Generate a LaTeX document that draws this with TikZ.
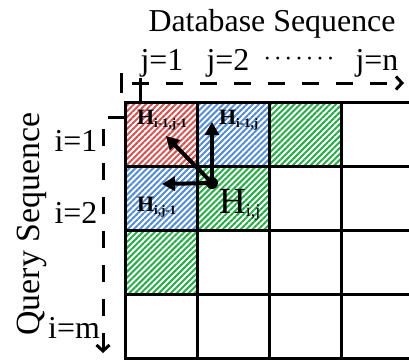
\documentclass[tikz,border=0pt]{standalone}
\usepackage{fontspec}
\setmainfont{Liberation Serif}
\usetikzlibrary{arrows.meta,patterns.meta}
\definecolor{hred}{RGB}{212,84,84}
\definecolor{hblue}{RGB}{84,140,212}
\definecolor{hgreen}{RGB}{40,172,72}
\newcommand\dotrow{·\kern2.6bp·\kern2.6bp·\kern2.6bp·\kern2.6bp·\kern2.6bp·\kern2.6bp·}
\tikzset{
  gridline/.style={line width=3bp,line cap=rect},
  hatch/.style={pattern={Lines[angle=45,distance=4.2bp,line width=2bp]},pattern color=#1},
  biglabel/.style={inner sep=0,font=\fontsize{32}{32}\selectfont},
  cellbold/.style={inner sep=0,anchor=base west,font=\fontsize{22}{22}\selectfont\bfseries},
  dashline/.style={line width=3bp,dash pattern=on 17bp off 17bp},
  thickarrow/.style={line width=4bp,-{Triangle[length=13bp,width=14bp]}},
}
\begin{document}
\begin{tikzpicture}[x=1bp,y=-1bp]
\useasboundingbox (0,0) rectangle (409,363);
% hatched cells
\fill[hatch=hred]   (125,102) rectangle (197,166);
\fill[hatch=hblue]  (197,102) rectangle (269,166);
\fill[hatch=hgreen] (269,102) rectangle (341,166);
\fill[hatch=hblue]  (125,166) rectangle (197,230);
\fill[hatch=hgreen] (197,166) rectangle (269,230);
\fill[hatch=hgreen] (125,230) rectangle (197,294);
% grid
\foreach \y in {102,166,230,294,358} \draw[gridline] (125,\y) -- (409,\y);
\foreach \x in {125,197,269,341} \draw[gridline] (\x,102) -- (\x,358);
% titles
\node[biglabel] (db) at (272,24) {Database Sequence};
\node[biglabel,rotate=90,font=\fontsize{34}{34}\selectfont] (qs) at (32,224) {Query Sequence};
% column labels
\node[biglabel,anchor=base] (j1) at (162,70) {j=1};
\node[biglabel,anchor=base] (j2) at (228,70) {j=2};
\node[biglabel,anchor=base,font=\fontsize{24}{24}\selectfont] (jd) at (299,66) {\dotrow};
\node[biglabel,anchor=base] (jn) at (377,70) {j=n};
% row labels
\node[biglabel,anchor=base] (i1) at (76,151) {i=1};
\node[biglabel,anchor=base] (i2) at (76,223) {i=2};
\node[biglabel,anchor=base] (im) at (74,338) {i=m};
% axis arrows
\coordinate (tstart) at (121,83);
\coordinate (tend) at (404,83);
\draw[line width=3bp] (121,73) -- (121,93);
\draw[line width=3bp] (140,78) -- (140,103);
\draw[dashline,dash phase=-11bp,-{Straight Barb[length=6bp,width=13bp]}] (tstart) -- (tend);
\coordinate (lstart) at (125,117);
\coordinate (lcorner) at (103,117);
\coordinate (lend) at (103,353);
\draw[dashline,-{Straight Barb[length=6bp,width=13bp]}] (lstart) -- (lcorner) -- (lend);
% cell labels
\node[cellbold] (h11) at (137,124) {H\textsubscript{\fontsize{13}{13}\selectfont i-1,j-1}};
\node[cellbold] (h10) at (219,124) {H\textsubscript{\fontsize{13}{13}\selectfont i-1,j}};
\node[cellbold] (h01) at (137,211) {H\textsubscript{\fontsize{13}{13}\selectfont i,j-1}};
\node[inner sep=0,anchor=base west,font=\fontsize{37}{37}\selectfont] (hij) at (219,213) {H\textsubscript{\fontsize{18}{18}\selectfont i,j}};
% arrows from the current cell
\node[circle,fill=black,inner sep=0,minimum size=12bp] (dot) at (212,183) {};
\coordinate (up) at (212,122);
\coordinate (left) at (162,184);
\coordinate (diag) at (166,136);
\draw[thickarrow] (dot.center) -- (up);
\draw[thickarrow] (dot.center) -- (left);
\draw[thickarrow] (dot.center) -- (diag);
\end{tikzpicture}
\end{document}
